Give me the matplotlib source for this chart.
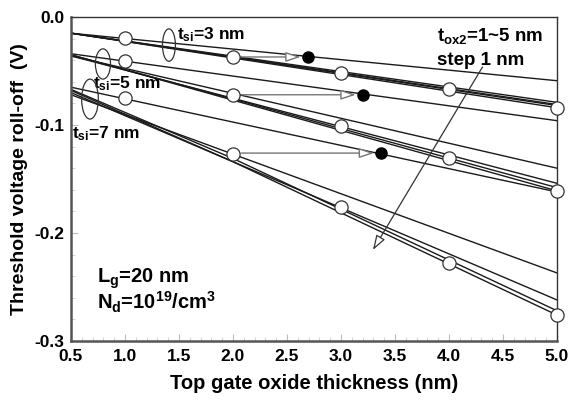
import matplotlib
matplotlib.use("Agg")
import matplotlib.pyplot as plt
from matplotlib.patches import Ellipse

plt.rcParams["font.family"] = ["Liberation Sans", "DejaVu Sans"]
plt.rcParams["font.weight"] = "bold"
plt.rcParams["mathtext.default"] = "bf"
plt.rcParams["mathtext.fontset"] = "custom"
plt.rcParams["mathtext.bf"] = "Liberation Sans:bold"

# model lines: value at x = 0.5, 2.0, 5.0 for tox2 = 1..5
line_x = [0.5, 2.0, 5.0]
tsi3_lines = [
    [-0.015, -0.0297, -0.059],
    [-0.015, -0.0363, -0.079],
    [-0.015, -0.0370, -0.081],
    [-0.015, -0.0373, -0.082],
    [-0.015, -0.0380, -0.084],
]
tsi5_lines = [
    [-0.034, -0.0547, -0.096],
    [-0.036, -0.0707, -0.140],
    [-0.036, -0.0753, -0.154],
    [-0.035, -0.0760, -0.158],
    [-0.035, -0.0770, -0.161],
]
tsi7_lines = [
    [-0.065, -0.0973, -0.162],
    [-0.072, -0.1270, -0.237],
    [-0.070, -0.1340, -0.262],
    [-0.067, -0.1310, -0.272],
    [-0.068, -0.1340, -0.276],
]

# symmetric points (open circles)
circ_x = [1.0, 2.0, 3.0, 4.0, 5.0]
tsi3_circ = [-0.0195, -0.037, -0.052, -0.067, -0.084]
tsi5_circ = [-0.041, -0.072, -0.101, -0.131, -0.161]
tsi7_circ = [-0.075, -0.127, -0.176, -0.228, -0.276]

# equivalent asymmetric points (filled)
fill_x = [2.69, 3.20, 3.37]
fill_y = [-0.037, -0.072, -0.126]

fig = plt.figure(figsize=(5.71, 4.0), dpi=100)
ax = fig.add_axes([0.1243, 0.1475, 0.8512, 0.81])

for group in (tsi3_lines, tsi5_lines, tsi7_lines):
    for vals in group:
        ax.plot(line_x, vals, color="#1a1a1a", lw=1.0, zorder=2)

# horizontal arrows from symmetric to asymmetric points
for fx, fy in zip(fill_x, fill_y):
    ax.annotate("", xy=(fx, fy), xytext=(2.0, fy),
                arrowprops=dict(arrowstyle="-|>,head_length=0.9,head_width=0.3",
                                fc="white", ec="#777777", lw=1.0,
                                shrinkA=6, shrinkB=5), zorder=3)

for circ in (tsi3_circ, tsi5_circ, tsi7_circ):
    ax.plot(circ_x, circ, ls="none", marker="o", ms=9.5, mfc="white",
            mec="#333333", mew=0.9, zorder=5, clip_on=False)
ax.plot(fill_x, fill_y, ls="none", marker="o", ms=8, mfc="black",
        mec="black", zorder=5)

# ellipses grouping the t_si bundles
for cx, cy, w, h in [(1.407, -0.026, 0.12, 0.030),
                     (0.796, -0.0435, 0.14, 0.028),
                     (0.676, -0.076, 0.155, 0.037)]:
    ax.add_patch(Ellipse((cx, cy), w, h, fill=False, ec="#333333",
                         lw=0.9, zorder=4))

ax.text(1.48, -0.0165, "t$_{si}$=3 nm", fontsize=12.5, va="center", ha="left")
ax.text(0.70, -0.0615, "t$_{si}$=5 nm", fontsize=12.5, va="center", ha="left")
ax.text(0.51, -0.108, "t$_{si}$=7 nm", fontsize=12.5, va="center", ha="left")
ax.text(3.89, -0.0175, "t$_{ox2}$=1~5 nm", fontsize=13.5, va="center", ha="left")
ax.text(3.89, -0.0405, "step 1 nm", fontsize=13.5, va="center", ha="left")

# tox2 direction arrow
ax.annotate("", xy=(3.296, -0.2157), xytext=(4.31, -0.0463),
            arrowprops=dict(arrowstyle="-|>,head_length=0.9,head_width=0.3",
                            fc="white", ec="#333333", lw=0.9,
                            shrinkA=0, shrinkB=0), zorder=3)

ax.text(0.74, -0.242, "L$_g$=20 nm", fontsize=14.5, va="center", ha="left")
ax.text(0.74, -0.264, "N$_d$=10$^{19}$/cm$^3$", fontsize=14.5, va="center", ha="left")

ax.set_xlim(0.5, 5.0)
ax.set_ylim(-0.3, 0.0)
ax.set_xticks([0.5, 1.0, 1.5, 2.0, 2.5, 3.0, 3.5, 4.0, 4.5, 5.0])
ax.set_xticklabels(["0.5", "1.0", "1.5", "2.0", "2.5", "3.0", "3.5", "4.0", "4.5", "5.0"])
ax.set_xticks([x / 10 for x in range(5, 51)], minor=True)
ax.set_yticks([0.0, -0.1, -0.2, -0.3])
ax.set_yticklabels(["0.0", "-0.1", "-0.2", "-0.3"])
ax.set_yticks([-y / 100 for y in range(0, 31, 2)], minor=True)
ax.tick_params(axis="both", which="major", direction="in", length=5,
               color="#bbbbbb", labelsize=12.5)
ax.tick_params(axis="x", which="major", pad=6)
ax.tick_params(axis="y", which="major", pad=5)
ax.tick_params(axis="both", which="minor", direction="in", length=3,
               color="#cccccc")
for lab in ax.get_xticklabels() + ax.get_yticklabels():
    lab.set_fontweight("bold")

for side in ("left", "bottom"):
    ax.spines[side].set_linewidth(1.8)
    ax.spines[side].set_color("#555555")
for side in ("top", "right"):
    ax.spines[side].set_linewidth(1.0)
    ax.spines[side].set_color("#333333")

ax.set_xlabel("Top gate oxide thickness (nm)", fontsize=14.5, fontweight="bold", labelpad=7)
ax.set_ylabel("Threshold voltage roll-off  (V)", fontsize=14, fontweight="bold", labelpad=4)

fig.savefig("out.png", dpi=100)
